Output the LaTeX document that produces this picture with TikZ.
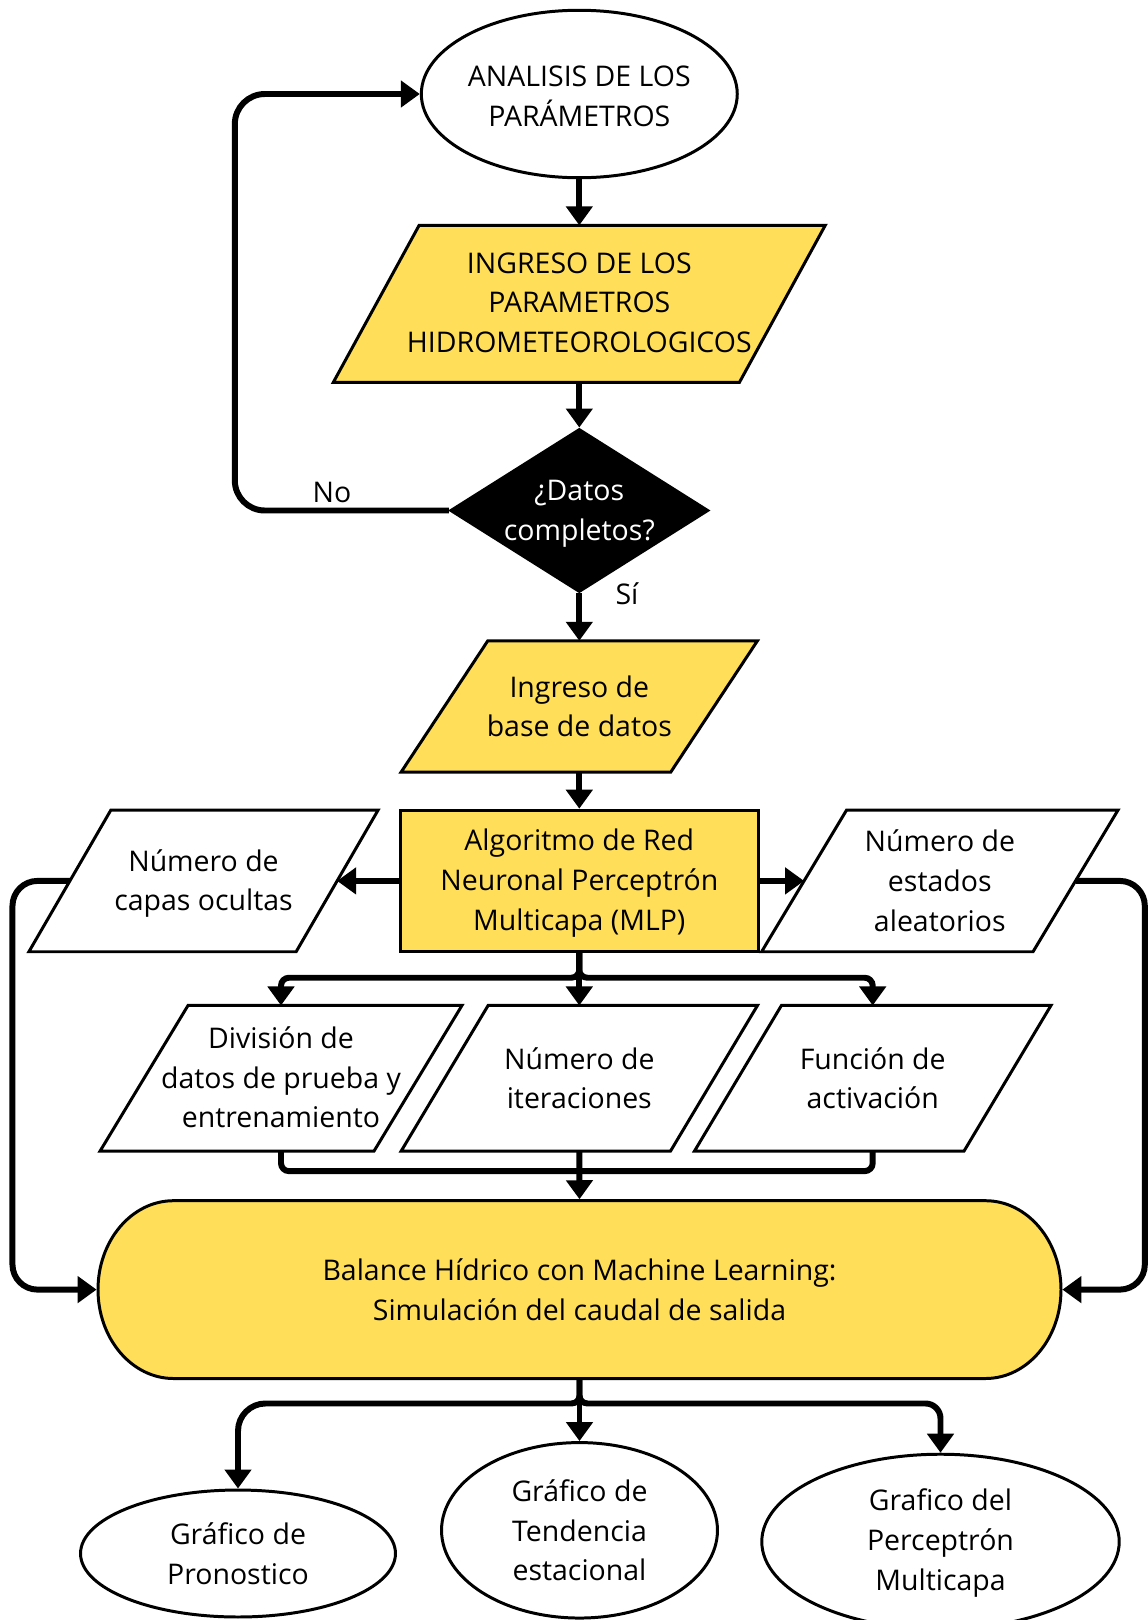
\documentclass[tikz,border=0pt]{standalone}
\usepackage{fontspec}
\setmainfont{Open Sans}
\usetikzlibrary{shapes.geometric,arrows.meta}
\definecolor{ylw}{HTML}{FFDE59}
\newcommand\paraShape[3]{%
  \filldraw[draw=black,line width=1.7pt,fill=#3]
    ([xshift=#2]#1.north west) -- ([xshift=#2]#1.north east) --
    ([xshift=-#2]#1.south east) -- ([xshift=-#2]#1.south west) -- cycle;}
\begin{document}
\begin{tikzpicture}[x=0.02cm,y=-0.02cm,
  box/.style={draw=black,line width=1.7pt,inner sep=0pt,outer sep=0.85pt},
  body/.style={inner sep=0pt,outer sep=0pt,rectangle},
  txt/.style={font=\fontsize{16.2}{22.6}\selectfont,align=center,inner sep=0pt,text=black},
  line/.style={line width=3.4pt},
  conn/.style={line width=3.4pt,-{Triangle[length=0.38cm,width=0.52cm]}}
]
\useasboundingbox (0,0) rectangle (1148,1620);
\fill[white] (0,0) rectangle (1148,1620);

% shapes
\node[box,ellipse,minimum width=6.32cm,minimum height=3.35cm] (ell1) at (579.3,94) {};
\node[body,minimum width=8.124cm,minimum height=3.14cm] (para1) at (579.3,303.8) {};
\paraShape{para1}{0.858cm}{ylw}
\node[box,diamond,fill=black,minimum width=5.16cm,minimum height=3.26cm] (dec) at (579.3,510.5) {};
\node[body,minimum width=5.394cm,minimum height=2.626cm] (para2) at (579.3,706.4) {};
\paraShape{para2}{0.867cm}{ylw}
\node[box,rectangle,fill=ylw,minimum width=7.17cm,minimum height=2.83cm] (mlp) at (579.3,880.9) {};
\node[body,minimum width=5.346cm,minimum height=2.834cm] (capas) at (203.5,880.9) {};
\paraShape{capas}{0.82cm}{white}
\node[body,minimum width=5.43cm,minimum height=2.834cm] (estados) at (939.8,880.9) {};
\paraShape{estados}{0.85cm}{white}
\node[body,minimum width=5.48cm,minimum height=2.914cm] (div) at (281,1078.3) {};
\paraShape{div}{0.88cm}{white}
\node[body,minimum width=5.388cm,minimum height=2.914cm] (iter) at (579.3,1078.3) {};
\paraShape{iter}{0.87cm}{white}
\node[body,minimum width=5.392cm,minimum height=2.914cm] (fun) at (872.7,1078.3) {};
\paraShape{fun}{0.87cm}{white}

\filldraw[draw=black,line width=1.7pt,fill=ylw] (173.5,1200.7) -- (985.5,1200.7)
  arc[start angle=-90,end angle=90,x radius=75.5,y radius=88.9] -- (173.5,1378.5)
  arc[start angle=90,end angle=270,x radius=75.5,y radius=88.9] -- cycle;
\node[inner sep=0pt,outer sep=0.85pt,minimum width=19.26cm,minimum height=3.556cm] (bal) at (579.5,1289.6) {};

\node[box,ellipse,minimum width=6.30cm,minimum height=2.54cm] (g1) at (238,1553.5) {};
\node[box,ellipse,minimum width=5.52cm,minimum height=3.51cm] (g2) at (579.5,1530.3) {};
\node[box,ellipse,minimum width=7.15cm,minimum height=3.50cm] (g3) at (940.5,1541.7) {};

% texts
\node[txt,yshift=-0.04cm] (t1) at (ell1) {ANALISIS DE LOS\\PARÁMETROS};
\node[txt,yshift=0.02cm] (t2) at (para1) {INGRESO DE LOS\\PARAMETROS\\HIDROMETEOROLOGICOS};
\node[txt,text=white,yshift=-0.06cm] (t3) at (dec) {¿Datos\\completos?};
\node[txt] (t4) at (para2) {Ingreso de\\base de datos};
\node[txt,yshift=-0.04cm] (t5) at (mlp) {Algoritmo de Red\\Neuronal Perceptrón\\Multicapa (MLP)};
\node[txt,yshift=-0.05cm] (t6) at (capas) {Número de\\capas ocultas};
\node[txt] (t7) at (estados) {Número de\\estados\\aleatorios};
\node[txt,yshift=0.02cm] (t8) at (div) {División de\\datos de prueba y\\entrenamiento};
\node[txt] (t9) at (iter) {Número de\\iteraciones};
\node[txt] (t10) at (fun) {Función de\\activación};
\node[txt] (t11) at (bal) {Balance Hídrico con Machine Learning:\\Simulación del caudal de salida};
\node[txt] (t12) at (g1) {Gráfico de\\Pronostico};
\node[txt] (t13) at (g2) {Gráfico de\\Tendencia\\estacional};
\node[txt,yshift=-0.03cm] (t14) at (g3) {Grafico del\\Perceptrón\\Multicapa};
\node[txt] (no) at (332,492) {No};
\node[txt] (si) at (627,594) {Sí};

% connectors
\draw[conn] (ell1.south) -- (ell1.south |- para1.north);
\draw[conn] (dec.north |- para1.south) -- (dec.north);
\draw[conn,rounded corners=0.6cm] (dec.west) -- ++(-214,0) |- (ell1.west);
\draw[conn] (dec.south) -- (dec.south |- para2.north);
\draw[conn] (mlp.north |- para2.south) -- (mlp.north);
\draw[conn] (mlp.west) -- (capas.east);
\draw[conn] (mlp.east) -- (estados.west);
\draw[conn,rounded corners=0.5cm] (capas.west) -- ++(-57.4,0) |- (bal.west);
\draw[conn,rounded corners=0.5cm] (estados.east) -- ++(69.3,0) |- (bal.east);
\draw[conn,rounded corners=0.16cm] (mlp.south) -- ++(0,24.6) -| (div.north);
\draw[conn,rounded corners=0.16cm] (mlp.south) -- ++(0,24.6) -| (fun.north);
\draw[conn] (mlp.south) -- (iter.north);
\draw[line,rounded corners=0.16cm] (div.south) -- ++(0,20) -| (fun.south);
\draw[conn] (iter.south) -- (bal.north);
\path (bal.south) ++(0,23.5) coordinate (b2);
\draw[conn] (bal.south) [rounded corners=0.16cm] -- (b2) [rounded corners=0.55cm] -- (b2 -| g1.north) -- (g1.north);
\draw[conn] (bal.south) [rounded corners=0.16cm] -- (b2) [rounded corners=0.3cm] -- (b2 -| g3.north) -- (g3.north);
\draw[conn] (bal.south) -- (g2.north);
\end{tikzpicture}
\end{document}
